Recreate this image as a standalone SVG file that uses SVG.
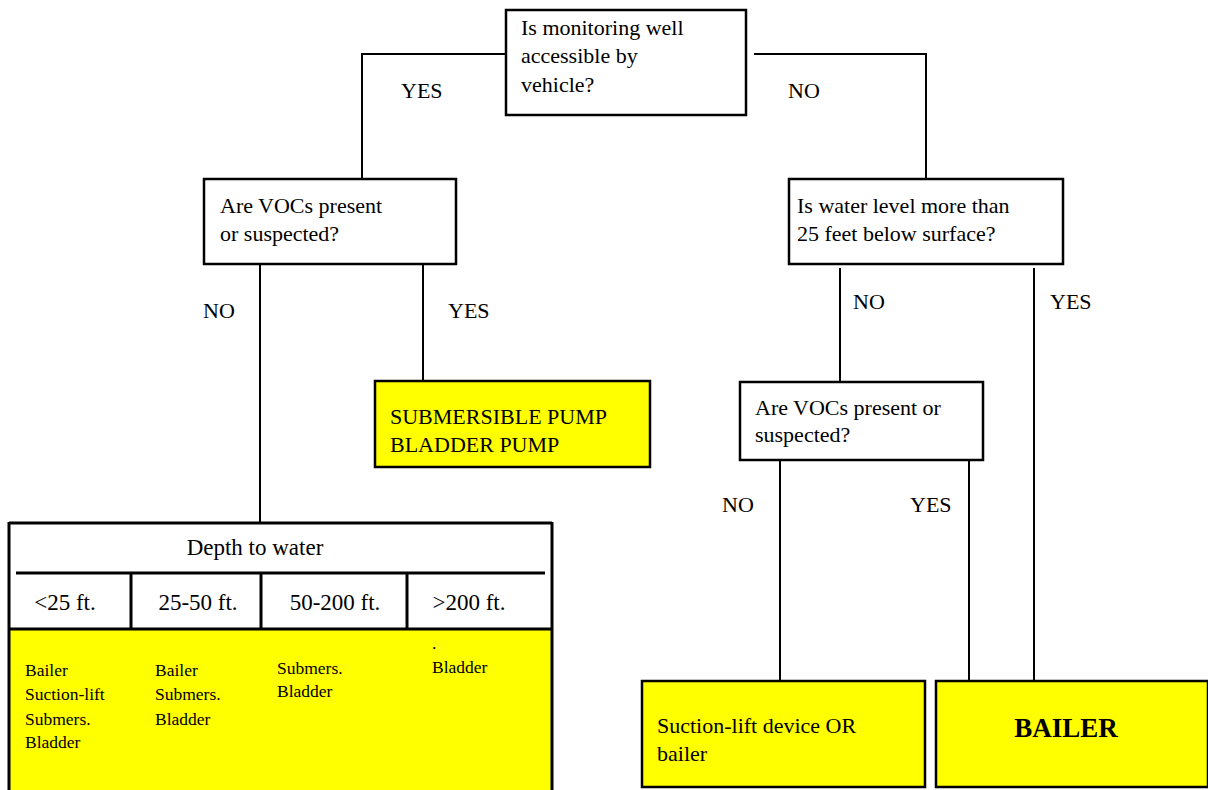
<svg xmlns="http://www.w3.org/2000/svg" width="1208" height="790" viewBox="0 0 1208 790">
<style>
  .box { fill: #ffffff; stroke: #000000; stroke-width: 2.5; }
  .ybox { fill: #ffff00; stroke: #000000; stroke-width: 2.5; }
  .tbl { fill: none; stroke: #000000; stroke-width: 3; }
  .ln { fill: none; stroke: #000000; stroke-width: 2; }
  text { font-family: "Liberation Serif", "Times New Roman", serif; fill: #000000; }
  .t { font-size: 22px; }
  .lbl { font-size: 22px; }
  .hd { font-size: 23px; text-anchor: middle; }
  .s { font-size: 17.5px; }
  .b { font-size: 27px; font-weight: bold; text-anchor: middle; }
</style>
<rect x="0" y="0" width="1208" height="790" fill="#ffffff"/>

<g id="connectors">
  <polyline class="ln" points="506,54 362,54 362,179"/>
  <polyline class="ln" points="754,54 926,54 926,179"/>
  <line class="ln" x1="260" y1="264" x2="260" y2="523"/>
  <line class="ln" x1="423" y1="264" x2="423" y2="381"/>
  <line class="ln" x1="840" y1="268" x2="840" y2="381"/>
  <line class="ln" x1="1034" y1="268" x2="1034" y2="681"/>
  <line class="ln" x1="780" y1="460" x2="780" y2="686"/>
  <line class="ln" x1="969" y1="460" x2="969" y2="681"/>
</g>

<g id="labels">
  <text class="lbl" x="401" y="98">YES</text>
  <text class="lbl" x="788" y="98">NO</text>
  <text class="lbl" x="203" y="318">NO</text>
  <text class="lbl" x="448" y="318">YES</text>
  <text class="lbl" x="853" y="309">NO</text>
  <text class="lbl" x="1050" y="309">YES</text>
  <text class="lbl" x="722" y="512">NO</text>
  <text class="lbl" x="910" y="512">YES</text>
</g>

<g id="node-vehicle">
  <rect class="box" x="506" y="10" width="240" height="105"/>
  <text class="t" x="521" y="35">Is monitoring well</text>
  <text class="t" x="521" y="63">accessible by</text>
  <text class="t" x="521" y="92">vehicle?</text>
</g>

<g id="node-vocs-left">
  <rect class="box" x="204" y="179" width="252" height="85"/>
  <text class="t" x="220" y="213">Are VOCs present</text>
  <text class="t" x="220" y="241">or suspected?</text>
</g>

<g id="node-water-level">
  <rect class="box" x="789" y="179" width="274" height="85"/>
  <text class="t" x="797" y="213">Is water level more than</text>
  <text class="t" x="797" y="241">25 feet below surface?</text>
</g>

<g id="node-pumps">
  <rect class="ybox" x="375" y="381" width="275" height="86"/>
  <text class="t" x="390" y="424">SUBMERSIBLE PUMP</text>
  <text class="t" x="390" y="452">BLADDER PUMP</text>
</g>

<g id="node-vocs-right">
  <rect class="box" x="740" y="382" width="243" height="78"/>
  <text class="t" x="755" y="415">Are VOCs present or</text>
  <text class="t" x="755" y="442">suspected?</text>
</g>

<g id="node-suction">
  <rect class="ybox" x="642" y="681" width="283" height="106"/>
  <text class="t" x="657" y="733">Suction-lift device OR</text>
  <text class="t" x="657" y="761">bailer</text>
</g>

<g id="node-bailer">
  <rect class="ybox" x="936" y="681" width="272" height="106"/>
  <text class="b" x="1066" y="737">BAILER</text>
</g>

<g id="node-depth-table">
  <rect x="9" y="629" width="543" height="170" fill="#ffff00"/>
  <rect x="9" y="523" width="543" height="106" fill="#ffffff"/>
  <line class="tbl" x1="9" y1="523" x2="552" y2="523"/>
  <line class="tbl" x1="9" y1="522" x2="9" y2="790"/>
  <line class="tbl" x1="552" y1="522" x2="552" y2="790"/>
  <line class="tbl" x1="16" y1="573" x2="545" y2="573"/>
  <line class="tbl" x1="9" y1="629" x2="552" y2="629"/>
  <line class="tbl" x1="131" y1="573" x2="131" y2="629"/>
  <line class="tbl" x1="261" y1="573" x2="261" y2="629"/>
  <line class="tbl" x1="407" y1="573" x2="407" y2="629"/>
  <text class="hd" x="255" y="555">Depth to water</text>
  <text class="hd" x="65" y="610">&lt;25 ft.</text>
  <text class="hd" x="198" y="610">25-50 ft.</text>
  <text class="hd" x="335" y="610">50-200 ft.</text>
  <text class="hd" x="469" y="610">&gt;200 ft.</text>
  <text class="s" x="25" y="676">Bailer</text>
  <text class="s" x="25" y="700">Suction-lift</text>
  <text class="s" x="25" y="725">Submers.</text>
  <text class="s" x="25" y="748">Bladder</text>
  <text class="s" x="155" y="676">Bailer</text>
  <text class="s" x="155" y="700">Submers.</text>
  <text class="s" x="155" y="725">Bladder</text>
  <text class="s" x="277" y="674">Submers.</text>
  <text class="s" x="277" y="697">Bladder</text>
  <text class="s" x="432" y="649">.</text>
  <text class="s" x="432" y="673">Bladder</text>
</g>
</svg>
